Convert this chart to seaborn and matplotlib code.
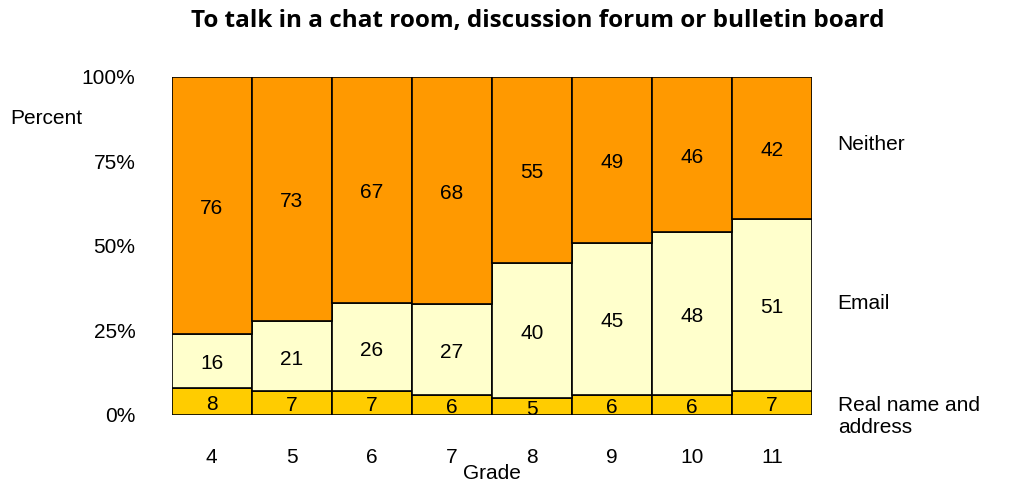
import numpy as np
import pandas as pd
import matplotlib
matplotlib.use("Agg")
import matplotlib.pyplot as plt
import seaborn as sns

grades = ["4", "5", "6", "7", "8", "9", "10", "11"]
real_name = [8, 7, 7, 6, 5, 6, 6, 7]
email = [16, 21, 26, 27, 40, 45, 48, 51]
neither = [76, 73, 67, 68, 55, 49, 46, 42]

colors = ["#FFCC00", "#FFFFCC", "#FF9900"]

sns.set_theme(style="white")
plt.rcParams['font.family'] = ['Liberation Sans', 'DejaVu Sans']
plt.rcParams['text.color'] = 'black'
plt.rcParams['xtick.color'] = 'black'
plt.rcParams['ytick.color'] = 'black'
plt.rcParams['axes.labelcolor'] = 'black'

FS = 15

df = pd.DataFrame({"Grade": grades, "Real": real_name, "Email": email, "Neither": neither})
tot = df[["Real", "Email", "Neither"]].sum(axis=1)
pct = df[["Real", "Email", "Neither"]].div(tot, axis=0) * 100

fig = plt.figure(figsize=(10.1, 4.87), dpi=100)
ax = fig.add_axes([0.170, 0.148, 0.634, 0.694])

bottom = np.zeros(len(grades))
cols = ["Real", "Email", "Neither"]
for c, col in zip(cols, colors):
    d = pd.DataFrame({"Grade": grades, "v": pct[c].values})
    sns.barplot(data=d, x="Grade", y="v", ax=ax, color=col, width=1.0,
                edgecolor="black", linewidth=1.2, bottom=bottom, saturation=1)
    for i, (v, raw) in enumerate(zip(pct[c].values, df[c].values)):
        ax.text(i, bottom[i] + v / 2 - 0.8, str(raw), ha="center", va="center",
                fontsize=FS, color="black")
    bottom = bottom + pct[c].values

ax.set_xlim(-0.5, len(grades) - 0.5)
ax.set_ylim(0, 100)
ax.set_yticks([0, 25, 50, 75, 100])
ax.set_yticklabels(["0%", "25%", "50%", "75%", "100%"], fontsize=FS)
ax.tick_params(axis="x", labelsize=FS, pad=18)
ax.tick_params(axis="y", pad=20)
for s in ax.spines.values():
    s.set_visible(False)
ax.set_xlabel("Grade", fontsize=FS, labelpad=-2)
ax.set_ylabel("")

fig.text(10 / 1010, 1 - 119 / 487, "Percent", fontsize=FS, ha="left", va="center")
fig.text(0.532, 1 - 21 / 487, "To talk in a chat room, discussion forum or bulletin board",
         fontsize=17.5, fontweight="bold", ha="center", va="center", family="Open Sans")

trans = ax.get_yaxis_transform()
ax.text(1.04, 80.0, "Neither", transform=trans, fontsize=FS, va="center", ha="left")
ax.text(1.04, 33.0, "Email", transform=trans, fontsize=FS, va="center", ha="left")
ax.text(1.04, -0.5, "Real name and\naddress", transform=trans, fontsize=FS, va="center",
        ha="left", linespacing=1.25)

fig.savefig("out.png", dpi=100)
